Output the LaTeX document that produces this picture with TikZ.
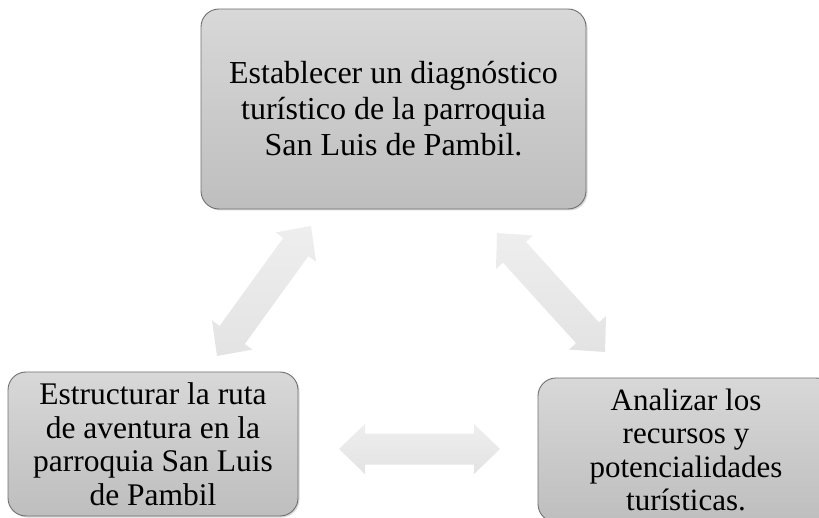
\documentclass[tikz,border=0pt]{standalone}
\usepackage{fontspec}
\setmainfont{Liberation Serif}
\usetikzlibrary{calc,shadows}
\definecolor{boxtop}{HTML}{D8D8D8}
\definecolor{boxbot}{HTML}{BEBEBE}
\definecolor{boxline}{HTML}{707070}
\definecolor{arrtop}{HTML}{EEEEEE}
\definecolor{arrbot}{HTML}{E3E3E3}
\tikzset{
  goalbox/.style={draw=boxline, line width=0.9pt, rounded corners=18pt,
    top color=boxtop, bottom color=boxbot, align=center, inner sep=0pt,
    drop shadow={shadow xshift=1.5pt, shadow yshift=-1.5pt, opacity=0.25, fill=black!60}},
  linkarrow/.style={draw=none, top color=arrtop, bottom color=arrbot}
}
\newcommand\dblarr[2]{\path[linkarrow] (#1)
 -- ($(#1)!26pt!(#2)!25pt!90:(#2)$)
 -- ($(#1)!26pt!(#2)!15.5pt!90:(#2)$)
 -- ($(#2)!26pt!(#1)!15.5pt!-90:(#1)$)
 -- ($(#2)!26pt!(#1)!25pt!-90:(#1)$)
 -- (#2)
 -- ($(#2)!26pt!(#1)!25pt!90:(#1)$)
 -- ($(#2)!26pt!(#1)!15.5pt!90:(#1)$)
 -- ($(#1)!26pt!(#2)!15.5pt!-90:(#2)$)
 -- ($(#1)!26pt!(#2)!25pt!-90:(#2)$)
 -- cycle;}
\begin{document}
\begin{tikzpicture}[x=1pt,y=-1pt]
\useasboundingbox (0,0) rectangle (819,518);
\clip (0,0) rectangle (819,518);
\node[goalbox, minimum width=385pt, minimum height=200pt,
      font=\fontsize{32}{36}\selectfont] (top) at (393.5,109)
  {Establecer un diagnóstico\\turístico de la parroquia\\San Luis de Pambil.};
\node[goalbox, minimum width=290pt, minimum height=144pt,
      font=\fontsize{31.5}{33.5}\selectfont] (left) at (153,444)
  {Estructurar la ruta\\de aventura en la\\parroquia San Luis\\de Pambil};
\node[goalbox, minimum width=296pt, minimum height=144pt,
      font=\fontsize{31}{33.5}\selectfont] (right) at (686,450)
  {Analizar los\\recursos y\\potencialidades\\turísticas.};
\coordinate (a1s) at (217,356);
\coordinate (a1e) at (311,226);
\coordinate (a2s) at (497,233);
\coordinate (a2e) at (605,352);
\coordinate (a3s) at (339,449);
\coordinate (a3e) at (500,449);
\dblarr{a1s}{a1e}
\dblarr{a2s}{a2e}
\dblarr{a3s}{a3e}
\end{tikzpicture}
\end{document}
